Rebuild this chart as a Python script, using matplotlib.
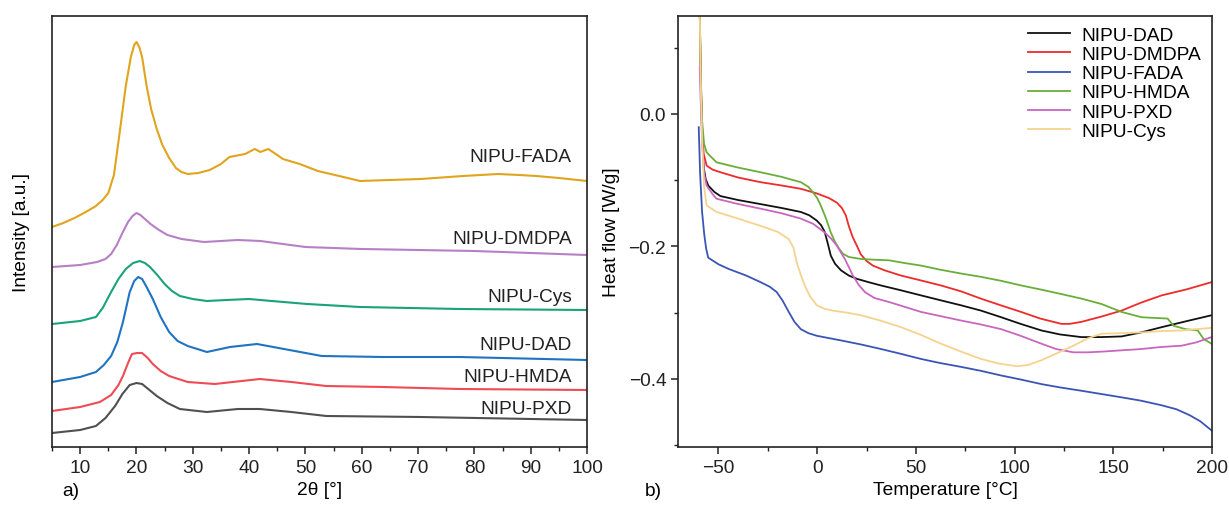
import matplotlib
matplotlib.use("Agg")
import matplotlib.pyplot as plt
from matplotlib.ticker import MultipleLocator

FS = 13.8
plt.rcParams['font.family'] = ['Liberation Sans', 'DejaVu Sans']
plt.rcParams['font.size'] = FS

# ---- XRD data (a) ----
fada_x = [5, 7, 9, 11, 12.8, 14, 15, 16, 17.1, 18.1, 19, 19.6, 20, 20.5, 21.0, 21.8, 22.6, 23.6, 24.6,
          25.8, 27.0, 28, 29.1, 31, 33, 35, 36.5, 39.3, 41, 42, 43.4, 45, 46, 49, 52.2, 56, 59.7,
          65, 70.5, 78, 84.2, 88, 91, 95, 100]
fada_y = [220, 224, 229, 235, 241, 247, 254, 272, 318, 361, 390, 402, 405, 400, 390, 361, 338, 318, 302,
          289, 279, 275, 273, 274, 277, 283, 290, 293, 298, 295, 298, 292, 288, 283, 276, 271, 266,
          267, 268, 271, 273, 272, 271, 269, 266]

dmdpa_x = [5, 10, 13, 14.5, 15.5, 16.5, 17.5, 18.5, 19.3, 20, 20.7, 21.5, 22.5, 24, 25.5, 28, 32, 38, 42, 46, 50, 60, 70, 80, 90, 100]
dmdpa_y = [180, 182, 185, 188, 193, 202, 214, 225, 231, 234, 232, 228, 223, 217, 212, 208, 205, 207, 206, 203, 200, 198, 197, 196, 194, 192]

cys_x = [5, 10, 12.8, 14, 15.5, 16.8, 18.1, 19.4, 20.6, 21.5, 22.4, 23.7, 25, 26.3, 27.7, 30, 32.5, 36, 40, 44, 50.3, 59.7, 77.4, 100]
cys_y = [123, 126, 130, 139, 155, 168, 178, 184, 186, 184, 180, 172, 163, 156, 151, 148, 146, 147, 148, 146, 143, 140, 138, 137]

dad_x = [5, 10, 12.8, 14.2, 15.5, 16.6, 17.6, 18.8, 19.6, 20.3, 21, 21.8, 22.9, 24.3, 25.8, 27.3, 29.1,
         32.5, 36.6, 41.4, 46.2, 52.9, 63.8, 77.4, 100]
dad_y = [65, 70, 75, 82, 91, 105, 125, 155, 166, 170, 168, 160, 148, 130, 115, 106, 101,
         95, 100, 103, 98, 91, 90, 90, 87]

hmda_x = [5, 10, 13.5, 15.5, 16.8, 17.6, 18.5, 19.2, 20.1, 21, 22, 22.9, 24.3, 25.8, 29.1, 33.9, 41.9, 47.5, 53.7, 63.8, 77.4, 100]
hmda_y = [36, 40, 45, 52, 62, 71, 84, 93, 94, 94, 89, 83, 76, 71, 65, 63, 68, 65, 61, 60, 58, 57]

pxd_x = [5, 10, 12.8, 14.5, 16.2, 17.5, 18.8, 20, 21, 22.3, 23.6, 25.5, 27.7, 32.5, 38, 41.9, 47.5, 53.7, 70.5, 100]
pxd_y = [14, 17, 21, 29, 41, 53, 62, 64, 63, 57, 51, 44, 38, 35, 38, 38, 35, 31, 30, 27]

xrd_names = ['NIPU-FADA', 'NIPU-DMDPA', 'NIPU-Cys', 'NIPU-DAD', 'NIPU-HMDA', 'NIPU-PXD']
xrd_label_y = [291, 208, 150, 103, 70, 38]

# ---- DSC data (b) ----
dsc_dad_t = [-59.5, -59, -58.3, -57.5, -56.5, -55.2, -52, -49, -40, -28.9, -18, -8.3, -4, -0.2, 2, 3.8,
             5.5, 6.9, 9, 12, 16, 20.1, 26, 32.3, 42, 52.6, 62, 72.9, 83, 93.2, 103, 113.6, 123, 133.8,
             144, 154.2, 164, 174.5, 187, 199.8]
dsc_dad = [0.16, 0.05, -0.03, -0.08, -0.098, -0.108, -0.118, -0.124, -0.130, -0.136, -0.142, -0.148, -0.153,
           -0.161, -0.168, -0.178, -0.197, -0.214, -0.226, -0.236, -0.244, -0.249, -0.254, -0.259, -0.266,
           -0.274, -0.281, -0.289, -0.297, -0.307, -0.317, -0.327, -0.333, -0.337, -0.337, -0.336, -0.330,
           -0.322, -0.313, -0.304]

dsc_dmdpa_t = [-59.5, -59, -58.3, -57.5, -56, -53, -49, -40, -28.7, -18, -8.3, -0.2, 6, 10, 12.5, 14.5, 16,
               18, 20.1, 22.1, 25, 28.2, 34, 42.4, 52, 62.7, 73, 83, 93, 103.3, 113, 123.7, 128, 133.8, 144,
               154.2, 164, 174.5, 187, 199.8]
dsc_dmdpa = [0.16, 0.06, -0.02, -0.06, -0.078, -0.084, -0.088, -0.096, -0.103, -0.108, -0.113, -0.120,
             -0.127, -0.134, -0.142, -0.153, -0.169, -0.186, -0.199, -0.212, -0.222, -0.229, -0.236, -0.244,
             -0.251, -0.259, -0.268, -0.279, -0.289, -0.299, -0.309, -0.317, -0.317, -0.314, -0.306, -0.297,
             -0.285, -0.274, -0.265, -0.254]

dsc_fada_t = [-60, -59.3, -58.3, -57.2, -56.2, -55.2, -50, -44.9, -36, -28.7, -24, -20.5, -17.5, -14.4, -11.5,
              -8.3, -4.5, -0.2, 5, 12, 22, 32.3, 42, 52.6, 62, 72.9, 83, 93.2, 103, 113.6, 123, 133.8, 144,
              154.2, 164, 174.5, 182, 188.7, 194, 199.8]
dsc_fada = [-0.02, -0.09, -0.148, -0.182, -0.204, -0.217, -0.227, -0.234, -0.244, -0.254, -0.261, -0.269,
            -0.282, -0.299, -0.314, -0.325, -0.331, -0.335, -0.338, -0.342, -0.348, -0.355, -0.362, -0.370,
            -0.376, -0.382, -0.388, -0.395, -0.401, -0.408, -0.413, -0.418, -0.423, -0.428, -0.433, -0.440,
            -0.446, -0.455, -0.464, -0.478]

dsc_hmda_t = [-59.5, -59, -58.3, -57.3, -56, -53, -51, -40, -28.7, -18, -8.3, -4.5, -2.2, 0, 1.8, 4.5, 6.9, 9,
              11, 13, 16, 22.1, 28, 36.4, 44, 52.6, 62, 72.9, 83, 93.2, 103.3, 113, 123.7, 134, 144, 154.2,
              164.3, 177.5, 180.6, 186.7, 192.8, 195.8, 199.8]
dsc_hmda = [0.16, 0.06, -0.01, -0.045, -0.058, -0.067, -0.073, -0.081, -0.088, -0.095, -0.103, -0.110,
            -0.118, -0.127, -0.138, -0.158, -0.179, -0.193, -0.203, -0.211, -0.216, -0.219, -0.220, -0.221,
            -0.225, -0.229, -0.235, -0.241, -0.246, -0.252, -0.259, -0.265, -0.272, -0.279, -0.287, -0.299,
            -0.307, -0.309, -0.320, -0.325, -0.327, -0.340, -0.347]

dsc_pxd_t = [-59.5, -59, -58.3, -57.3, -56, -53, -51, -40, -28.7, -18, -8.3, -2, 3.8, 7, 10, 14, 16, 18.1,
             21, 24.2, 29, 36.4, 44, 52.6, 62, 72.9, 83, 93.2, 103, 113.6, 121, 129.8, 137, 144, 154, 164.3,
             174, 184.6, 192, 199.8]
dsc_pxd = [0.07, 0.02, -0.04, -0.09, -0.108, -0.121, -0.128, -0.136, -0.143, -0.150, -0.158, -0.166, -0.179,
           -0.188, -0.199, -0.219, -0.231, -0.244, -0.258, -0.269, -0.278, -0.284, -0.291, -0.299, -0.305,
           -0.312, -0.318, -0.325, -0.335, -0.347, -0.355, -0.360, -0.360, -0.359, -0.357, -0.355, -0.352,
           -0.350, -0.345, -0.337]

dsc_cys_t = [-59.5, -59, -58.3, -57.3, -56, -53, -51, -40, -28.7, -20, -14.4, -12, -10.4, -8.3, -6.3, -3.5,
             -0.2, 3.5, 7.9, 15, 22.1, 32, 42.4, 52, 62.7, 73, 83, 92, 101.4, 107, 113.6, 121, 129.8, 137,
             144, 154, 164.3, 174, 184.6, 192, 199.8]
dsc_cys = [0.16, 0.05, -0.04, -0.11, -0.138, -0.144, -0.148, -0.158, -0.169, -0.178, -0.189, -0.202, -0.224,
           -0.243, -0.259, -0.276, -0.289, -0.294, -0.297, -0.300, -0.304, -0.312, -0.322, -0.333, -0.347,
           -0.359, -0.370, -0.377, -0.381, -0.379, -0.372, -0.362, -0.350, -0.339, -0.332, -0.331, -0.330,
           -0.328, -0.327, -0.325, -0.323]

dsc_names = ['NIPU-DAD', 'NIPU-DMDPA', 'NIPU-FADA', 'NIPU-HMDA', 'NIPU-PXD', 'NIPU-Cys']

fig = plt.figure(figsize=(12.29, 5.06), dpi=100)
ax1 = fig.add_axes([52/1229, 1-448/506, 535/1229, 431/506])
ax2 = fig.add_axes([678/1229, 1-448/506, 534/1229, 431/506])

xrd_colors = ['#E0A41E', '#B77FC6', '#1AA27B', '#1F73C2', '#EF4B55', '#505050']
xrd_data = [(fada_x, fada_y), (dmdpa_x, dmdpa_y), (cys_x, cys_y),
            (dad_x, dad_y), (hmda_x, hmda_y), (pxd_x, pxd_y)]
for (xs, ys), c, name, ly in zip(xrd_data, xrd_colors, xrd_names, xrd_label_y):
    ax1.plot(xs, ys, color=c, lw=1.5)
    ax1.text(97.3, ly, name, ha='right', va='center', fontsize=FS, color='#222222')

ax1.set_xlim(5, 100)
ax1.set_ylim(0, 431)
ax1.set_yticks([])
ax1.xaxis.set_major_locator(MultipleLocator(10))
ax1.xaxis.set_minor_locator(MultipleLocator(5))
ax1.set_xticks(range(10, 101, 10))
ax1.set_xlabel('2θ [°]', labelpad=4)
ax1.set_ylabel('Intensity [a.u.]', labelpad=16)

dsc_colors = ['#111111', '#EE2A2A', '#3B55B5', '#6AAE3A', '#C966C0', '#F5D38E']
dsc_data = [(dsc_dad_t, dsc_dad), (dsc_dmdpa_t, dsc_dmdpa), (dsc_fada_t, dsc_fada),
            (dsc_hmda_t, dsc_hmda), (dsc_pxd_t, dsc_pxd), (dsc_cys_t, dsc_cys)]
for (ts, vs), c, name in zip(dsc_data, dsc_colors, dsc_names):
    ax2.plot(ts, vs, color=c, lw=1.3, label=name)

ax2.set_xlim(-70.5, 200)
ax2.set_ylim(-0.503, 0.148)
ax2.xaxis.set_major_locator(MultipleLocator(50))
ax2.xaxis.set_minor_locator(MultipleLocator(25))
ax2.yaxis.set_major_locator(MultipleLocator(0.2))
ax2.yaxis.set_minor_locator(MultipleLocator(0.1))
ax2.set_xlabel('Temperature [°C]', labelpad=4)
ax2.set_ylabel('Heat flow [W/g]', labelpad=6)
ax2.legend(loc='upper right', frameon=False, handlelength=2.2, labelspacing=0.09,
           handletextpad=0.6, borderaxespad=0.15, fontsize=FS, bbox_to_anchor=(1.0, 1.0))

for ax in (ax1, ax2):
    for s in ax.spines.values():
        s.set_linewidth(1.2)
        s.set_color('#222222')
    ax.tick_params(which='major', direction='out', length=5, width=1.1, labelsize=FS, colors='#222222')
    ax.tick_params(which='minor', direction='out', length=3, width=1.0, colors='#222222')

fig.text(62/1229, 1-492/506, 'a)', ha='left', va='center', fontsize=FS)
fig.text(645/1229, 1-492/506, 'b)', ha='left', va='center', fontsize=FS)

fig.savefig('out.png', dpi=100)
